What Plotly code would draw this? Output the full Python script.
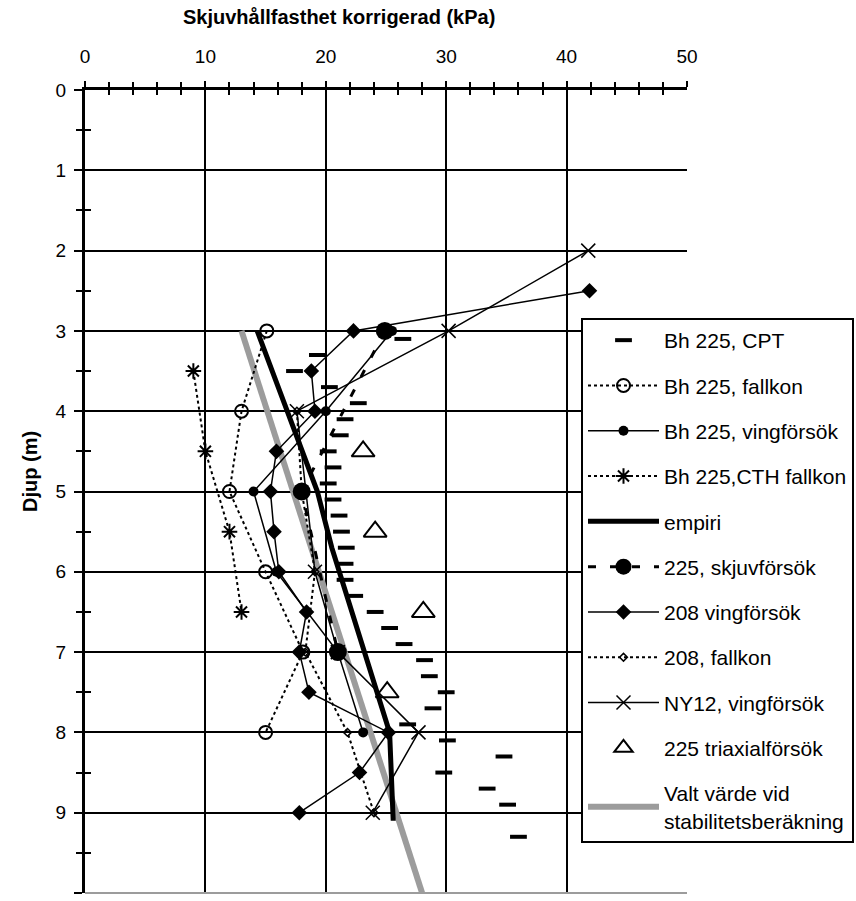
import plotly.graph_objects as go

# --- data -------------------------------------------------------------
cpt_depth = [3.1, 3.3, 3.5, 3.7, 3.9, 4.1, 4.3, 4.5, 4.7, 4.9, 5.1, 5.3, 5.5, 5.7,
             5.9, 6.1, 6.3, 6.5, 6.7, 6.9, 7.1, 7.3, 7.5, 7.7, 7.9, 8.1, 8.3, 8.5,
             8.7, 8.9, 9.3]
cpt_su = [26.4, 19.3, 17.4, 20.3, 22.7, 21.6, 21.2, 20.2, 20.6, 20.2, 20.6, 21.1,
          21.3, 21.7, 21.6, 21.6, 22.4, 24.1, 25.3, 26.5, 28.2, 28.6, 30.0, 28.9,
          26.8, 30.1, 34.8, 29.8, 33.4, 35.1, 36.0]

fk225_depth = [3, 4, 5, 6, 7, 8]
fk225_su = [15.1, 13.0, 12.0, 15.0, 18.1, 15.0]

vf225_depth = [3, 4, 5, 6, 7, 8]
vf225_su = [25.5, 20.0, 14.0, 15.9, 21.0, 23.1]

cth_depth = [3.5, 4.5, 5.5, 6.5]
cth_su = [9.0, 10.0, 12.0, 13.0]

emp_depth = [3.0, 5.0, 5.7, 8.0, 9.1]
emp_su = [14.3, 19.3, 20.5, 25.3, 25.6]

skj_depth = [3, 5, 7]
skj_su = [24.9, 18.0, 21.0]

vf208_depth = [2.5, 3.0, 3.5, 4.0, 4.5, 5.0, 5.5, 6.0, 6.5, 7.0, 7.5, 8.0, 8.5, 9.0]
vf208_su = [41.9, 22.3, 18.8, 19.1, 15.9, 15.4, 15.7, 16.1, 18.4, 17.8, 18.6,
            25.2, 22.8, 17.8]

fk208_depth = [4.0, 5.0, 6.0, 7.0, 8.0, 9.0]
fk208_su = [17.6, 18.0, 19.1, 18.3, 21.8, 24.0]

ny12_depth = [2, 3, 4, 6, 7, 8, 9]
ny12_su = [41.8, 30.2, 17.6, 19.1, 21.0, 27.7, 23.9]

tri_depth = [4.5, 5.5, 6.5, 7.5]
tri_su = [23.1, 24.1, 28.1, 25.1]

valt_depth = [3, 10]
valt_su = [13.0, 28.0]

FONT = "Liberation Sans, Arial, sans-serif"

fig = go.Figure()

fig.add_trace(go.Scatter(
    x=valt_su, y=valt_depth, mode="lines", name="Valt värde vid<br>stabilitetsberäkning",
    line=dict(color="#9c9c9c", width=6), legendrank=11, legendgroup="k"))
fig.add_trace(go.Scatter(
    x=emp_su, y=emp_depth, mode="lines", name="empiri",
    line=dict(color="black", width=5), legendrank=5, legendgroup="e"))
fig.add_trace(go.Scatter(
    x=cpt_su, y=cpt_depth, mode="markers", name="Bh 225, CPT",
    marker=dict(symbol="line-ew", size=12, color="black",
                line=dict(color="black", width=4)), legendrank=1, legendgroup="a"))
fig.add_trace(go.Scatter(
    x=fk225_su, y=fk225_depth, mode="lines+markers", name="Bh 225, fallkon",
    line=dict(color="black", width=2, dash="dot"),
    marker=dict(symbol="circle-open", size=13, color="black", line=dict(width=2)),
    legendrank=2, legendgroup="b"))
fig.add_trace(go.Scatter(
    x=vf225_su, y=vf225_depth, mode="lines+markers", name="Bh 225, vingförsök",
    line=dict(color="black", width=1.5),
    marker=dict(symbol="circle", size=10, color="black"),
    legendrank=3, legendgroup="c"))
fig.add_trace(go.Scatter(
    x=cth_su, y=cth_depth, mode="lines+markers", name="Bh 225,CTH fallkon",
    line=dict(color="black", width=2, dash="dot"),
    marker=dict(symbol="asterisk-open", size=13, color="black", line=dict(width=2)),
    legendrank=4, legendgroup="d"))
fig.add_trace(go.Scatter(
    x=skj_su, y=skj_depth, mode="lines+markers", name="225, skjuvförsök",
    line=dict(color="black", width=3, dash="8px,14px"),
    marker=dict(symbol="circle", size=18, color="black"),
    legendrank=6, legendgroup="f"))
fig.add_trace(go.Scatter(
    x=vf208_su, y=vf208_depth, mode="lines+markers", name="208 vingförsök",
    line=dict(color="black", width=1.5),
    marker=dict(symbol="diamond", size=12, color="black"),
    legendrank=7, legendgroup="g"))
fig.add_trace(go.Scatter(
    x=fk208_su, y=fk208_depth, mode="lines+markers", name="208, fallkon",
    line=dict(color="black", width=2, dash="dot"),
    marker=dict(symbol="diamond-open", size=6, color="black", line=dict(width=1.5)),
    legendrank=8, legendgroup="h"))
fig.add_trace(go.Scatter(
    x=ny12_su, y=ny12_depth, mode="lines+markers", name="NY12, vingförsök",
    line=dict(color="black", width=1.5),
    marker=dict(symbol="x-thin-open", size=14, color="black", line=dict(width=1.5)),
    legendrank=9, legendgroup="i"))
fig.add_trace(go.Scatter(
    x=tri_su, y=tri_depth, mode="markers", name="225 triaxialförsök",
    marker=dict(symbol="triangle-up-open", size=20, color="black", line=dict(width=2)),
    legendrank=10, legendgroup="j"))

# companion axes carrying the inward half of the crossing tick marks
fig.add_trace(go.Scatter(x=[None], y=[None], xaxis="x2", yaxis="y2",
                         showlegend=False, hoverinfo="skip"))

L, R, T, B = 85, 169, 90, 8
W, H = 856, 901
PW, PH = W - L - R, H - T - B

fig.update_layout(
    width=W, height=H,
    margin=dict(l=L, r=R, t=T, b=B, autoexpand=False),
    paper_bgcolor="white", plot_bgcolor="white",
    font=dict(family=FONT, color="black", size=19),
    xaxis=dict(
        side="top", range=[0, 50], dtick=10, showgrid=True, gridcolor="black",
        gridwidth=2, showline=True, linecolor="black", linewidth=3,
        ticks="outside", ticklen=6, tickwidth=2, tickcolor="black",
        minor=dict(dtick=2, ticks="outside", ticklen=5, tickwidth=2,
                   tickcolor="black", showgrid=False),
        zeroline=False, tickfont=dict(size=19), ticklabelstandoff=10,
    ),
    yaxis=dict(
        range=[10, 0], dtick=1, showgrid=True, gridcolor="black", gridwidth=2,
        showline=True, linecolor="black", linewidth=3,
        ticks="outside", ticklen=8, tickwidth=2, tickcolor="black",
        minor=dict(dtick=0.5, ticks="outside", ticklen=6, tickwidth=2,
                   tickcolor="black", showgrid=False),
        zeroline=False, tickfont=dict(size=19), ticklabelstandoff=4,
    ),
    xaxis2=dict(
        overlaying="x", matches="x", side="top", anchor="y2", range=[0, 50],
        showgrid=False, showticklabels=False, showline=False, zeroline=False,
        dtick=10, ticks="", minor=dict(dtick=2, ticks="inside", ticklen=5,
                                       tickwidth=2, tickcolor="black"),
    ),
    yaxis2=dict(
        overlaying="y", matches="y", side="left", anchor="x2", range=[10, 0],
        showgrid=False, showticklabels=False, showline=False, zeroline=False,
        dtick=1, ticks="", minor=dict(dtick=0.5, ticks="inside", ticklen=6,
                                      tickwidth=2, tickcolor="black"),
    ),
    legend=dict(
        x=(581 - L) / PW, y=(H - B - 318) / PH,
        xanchor="left", yanchor="top",
        bgcolor="white", bordercolor="black", borderwidth=2,
        font=dict(family=FONT, size=21, color="black"),
        itemwidth=71, tracegroupgap=15, traceorder="grouped",
    ),
    annotations=[
        dict(text="<b>Skjuvhållfasthet korrigerad (kPa)</b>", xref="paper",
             yref="paper", x=(339 - L) / PW, y=(H - B - 17) / PH,
             xanchor="center", yanchor="middle", showarrow=False,
             font=dict(size=20)),
        dict(text="<b>Djup (m)</b>", xref="paper", yref="paper",
             x=(30 - L) / PW, y=(H - B - 472) / PH, textangle=-90,
             xanchor="center", yanchor="middle", showarrow=False,
             font=dict(size=20)),
    ],
    shapes=[dict(type="line", xref="x domain", yref="y domain",
                 x0=0, x1=1, y0=0, y1=0, line=dict(color="#9c9c9c", width=2),
                 layer="above")],
)

fig.write_html("out.html")
